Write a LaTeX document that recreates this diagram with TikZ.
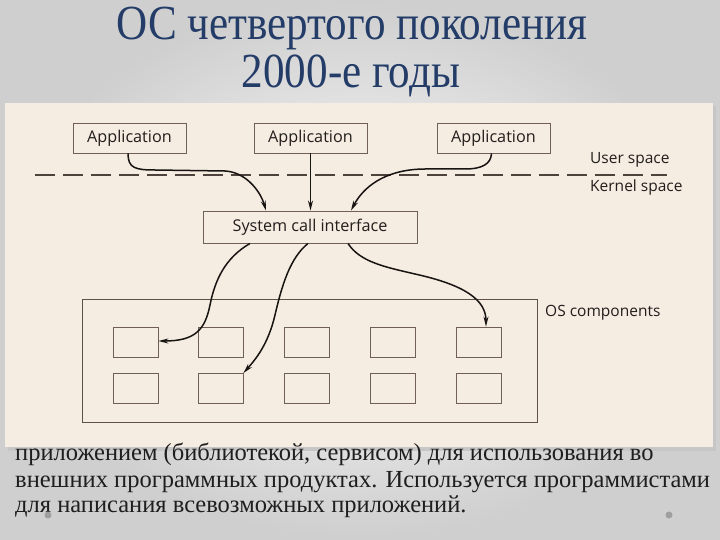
\documentclass[tikz,border=0pt]{standalone}
\usepackage{fontspec}
\setmainfont{Liberation Serif}
\newfontfamily\diagfont{Open Sans}
\newfontfamily\titlefont[FakeStretch=0.88]{Liberation Serif}
\usetikzlibrary{arrows.meta}
\definecolor{panelc}{RGB}{245,236,226}
\definecolor{boxc}{RGB}{112,95,86}
\definecolor{arrc}{RGB}{24,20,18}
\definecolor{txtd}{RGB}{34,30,28}
\definecolor{titlec}{RGB}{36,60,104}
\definecolor{bodyc}{RGB}{30,30,30}
\begin{document}
\begin{tikzpicture}[x=1pt,y=-1pt,
  appbox/.style={draw=boxc, line width=0.9pt, inner sep=0pt, minimum width=113pt, minimum height=30pt,
     font=\diagfont\fontsize{16.2}{18}\selectfont, text=txtd},
  comp/.style={draw=boxc, line width=0.8pt, inner sep=0pt, minimum width=45pt, minimum height=30pt},
  arr/.style={draw=arrc, line width=1.5pt, -{Stealth[length=10pt,width=5pt]}},
  lbl/.style={font=\diagfont\fontsize{15.5}{18}\selectfont, anchor=west, text=txtd, inner sep=0pt},
  titletext/.style={font=\titlefont\fontsize{49}{56}\selectfont, text=titlec, inner sep=0pt},
  bodytext/.style={font=\fontsize{24.5}{28}\selectfont, text=bodyc, inner sep=0pt, anchor=base west},
  dotc/.style={fill=gray!75, draw=none},
]
\useasboundingbox (0,0) rectangle (720,540);
% slide background
\shade[inner color=white, outer color=gray!38] (0,0) rectangle (720,540);
% title
\node[titletext] (t1) at (352,28) {ОС четвертого поколения};
\node[titletext] (t2) at (351,76) {2000-е годы};
% pasted picture panel
\fill[gray!45] (8,106) rectangle (716,451);
\fill[panelc] (5,103) rectangle (713,447);
% applications
\node[appbox] (app1) at (129.5,138) {Application};
\node[appbox] (app2) at (310.5,138) {Application};
\node[appbox] (app3) at (493.5,138) {Application};
% user / kernel boundary
\coordinate (dl) at (35,175);
\coordinate (dr) at (667,175);
\draw[boxc!70!black, line width=1.1pt, dash pattern=on 20pt off 8pt] (dl) -- (dr);
\node[lbl] (us) at (590,160) {User space};
\node[lbl] (ks) at (590,187) {Kernel space};
% system call interface
\node[appbox, minimum width=214pt, minimum height=32pt] (sci) at (310,227) {System call interface};
% OS components
\node[draw=boxc!85!black, line width=1pt, minimum width=455pt, minimum height=123pt, inner sep=0pt] (os) at (309.5,360.5) {};
\node[lbl] (osl) at (545,313) {OS components};
\foreach \i/\x in {1/135.5,2/220.5,3/307,4/392.5,5/479}{
  \node[comp] (c1\i) at (\x,342) {};
  \node[comp] (c2\i) at (\x,388.5) {};
}
% connectors: applications -> system call interface
\draw[arr] ([xshift=-1.5pt]app1.south) .. controls (128,168) and (135,170) .. (155,170)
   -- (225,171) .. controls (245,172) and (260,190) .. ([xshift=-44pt]sci.north);
\draw[arr] (app2.south) -- (app2.south |- sci.north);
\draw[arr] ([xshift=-2pt]app3.south) .. controls (491,164) and (482,169) .. (465,169)
   -- (425,169) .. controls (392,169) and (366,182) .. ([xshift=41pt]sci.north);
% connectors: system call interface -> components
\draw[arr] ([xshift=-60pt]sci.south) .. controls (225,258) and (215,280) .. (210,305)
   .. controls (205,330) and (195,341) .. ([yshift=1pt]c11.east);
\draw[arr] ([xshift=-2pt]sci.south) .. controls (290,258) and (282,285) .. (275,315)
   .. controls (268,345) and (255,360) .. (c22.north east);
\draw[arr] ([xshift=38pt]sci.south) .. controls (360,262) and (385,267) .. (415,274)
   .. controls (465,285) and (486,300) .. ([xshift=7pt]c15.north);
% body text
\node[bodytext] (b1) at (15,460) {приложением (библиотекой, сервисом) для использования во};
\node[bodytext] (b2) at (15,487) {внешних программных продуктах. Используется программистами};
\node[bodytext] (b3) at (15,512) {для написания всевозможных приложений.};
% bullet dots
\fill[dotc] (48,515) circle (3.5);
\fill[dotc] (669,515) circle (3.5);
\end{tikzpicture}
\end{document}
